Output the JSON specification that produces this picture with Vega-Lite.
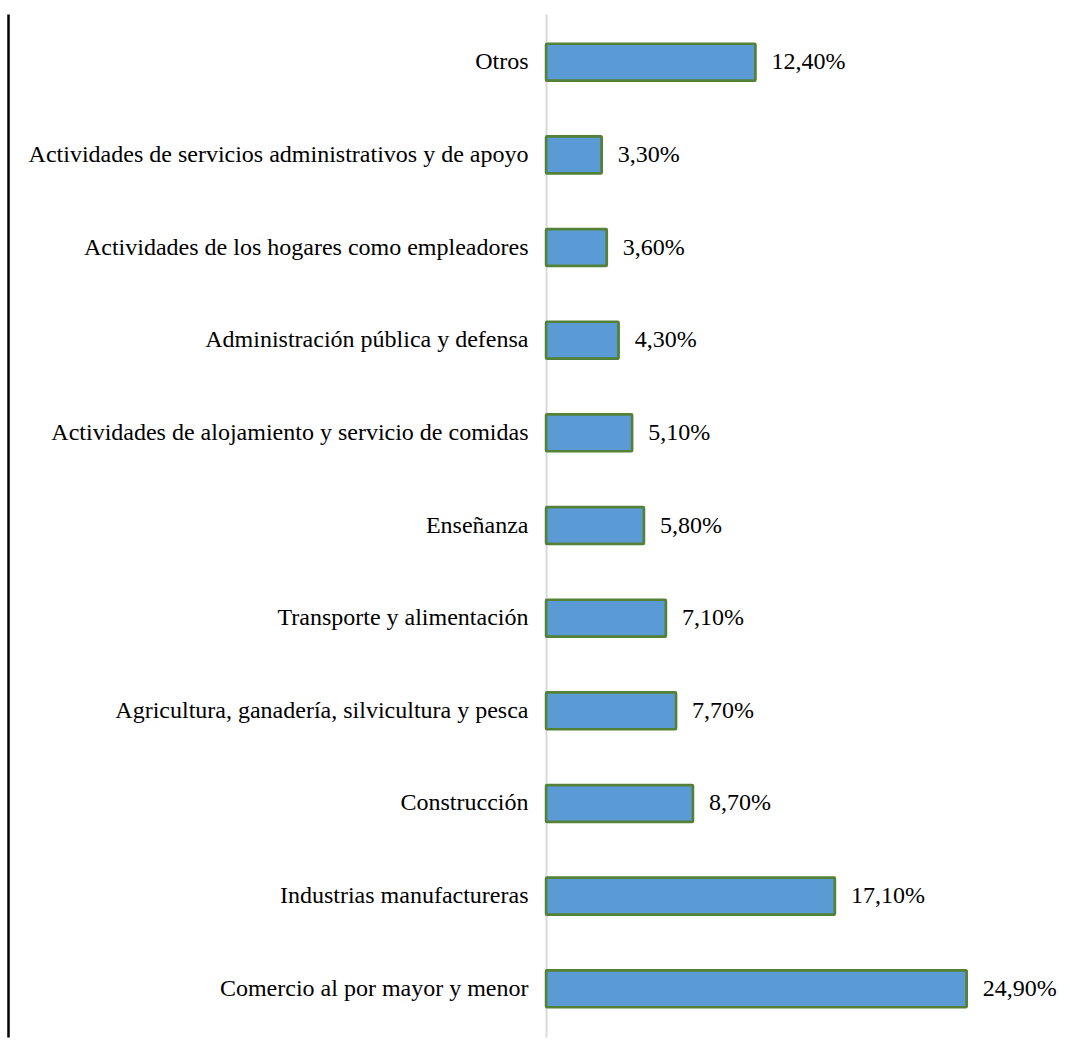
{
  "$schema": "https://vega.github.io/schema/vega-lite/v6.json",
  "autosize": {"type": "none"},
  "width": 490,
  "height": 1023,
  "padding": {"left": 546, "top": 14, "right": 34, "bottom": 22},
  "background": "white",
  "config": {"view": {"stroke": null}, "font": "Liberation Serif"},
  "data": {"values": [
    {"sector": "Otros", "value": 12.4, "label": "12,40%"},
    {"sector": "Actividades de servicios administrativos y de apoyo", "value": 3.3, "label": "3,30%"},
    {"sector": "Actividades de los hogares como empleadores", "value": 3.6, "label": "3,60%"},
    {"sector": "Administración pública y defensa", "value": 4.3, "label": "4,30%"},
    {"sector": "Actividades de alojamiento y servicio de comidas", "value": 5.1, "label": "5,10%"},
    {"sector": "Enseñanza", "value": 5.8, "label": "5,80%"},
    {"sector": "Transporte y alimentación", "value": 7.1, "label": "7,10%"},
    {"sector": "Agricultura, ganadería, silvicultura y pesca", "value": 7.7, "label": "7,70%"},
    {"sector": "Construcción", "value": 8.7, "label": "8,70%"},
    {"sector": "Industrias manufactureras", "value": 17.1, "label": "17,10%"},
    {"sector": "Comercio al por mayor y menor", "value": 24.9, "label": "24,90%"}
  ]},
  "encoding": {
    "x": {"field": "value", "type": "quantitative", "scale": {"domain": [0, 29]}, "axis": null}
  },
  "layer": [
    {
      "mark": {"type": "bar", "fill": "#5B9BD5", "stroke": "#538135", "strokeWidth": 2.5, "cornerRadius": 1},
      "encoding": {
        "y": {"field": "sector", "type": "nominal", "sort": null,
          "scale": {"paddingInner": 0.6, "paddingOuter": 0.32},
          "axis": {"title": null, "labelFont": "Liberation Serif", "labelFontSize": 24, "labelColor": "#000000",
            "labelPadding": 18, "ticks": false, "domainColor": "#D9D9D9", "domainWidth": 2, "labelLimit": 600}}
      }
    },
    {
      "mark": {"type": "text", "align": "left", "baseline": "middle", "dx": 16, "font": "Liberation Serif", "fontSize": 24, "color": "#000000"},
      "encoding": {
        "y": {"field": "sector", "type": "nominal", "sort": null, "axis": null},
        "text": {"field": "label"}
      }
    },
    {
      "mark": {"type": "bar", "opacity": 0},
      "encoding": {
        "y": {"field": "sector", "type": "nominal", "sort": null,
          "axis": {"orient": "left", "title": null, "labels": false, "ticks": false, "offset": 538, "domainColor": "#000000", "domainWidth": 2.5}}
      }
    }
  ],
  "resolve": {"axis": {"y": "independent"}}
}
